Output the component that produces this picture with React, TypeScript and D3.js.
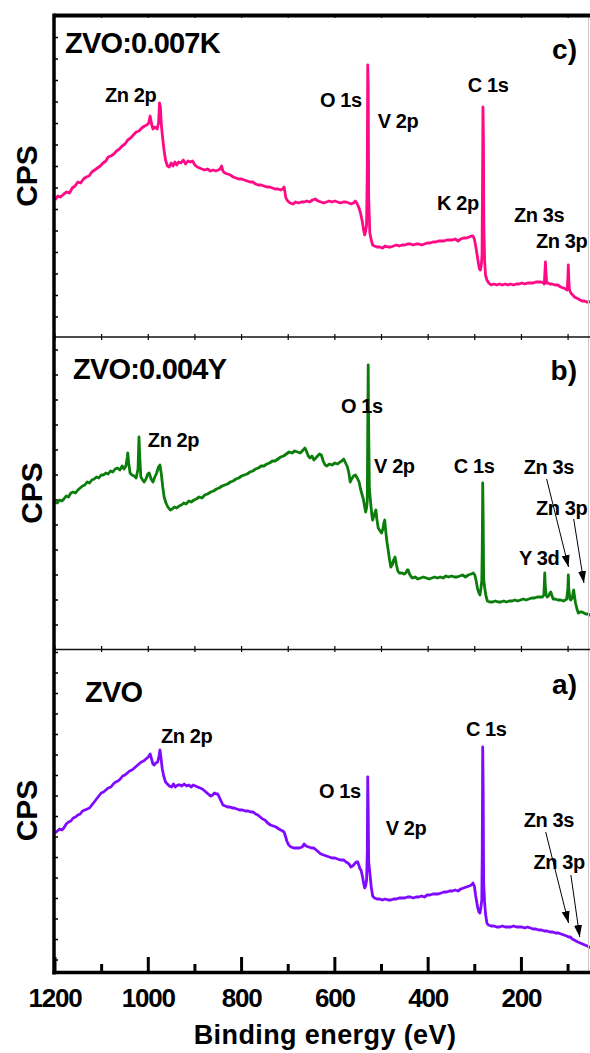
import React from 'react';
import * as d3 from 'd3';

// ---------- data ----------
const xDomain: [number, number] = [1200, 53];
const xTicksMajor = [1200, 1000, 800, 600, 400, 200];
const xTicksMinor = [1100, 900, 700, 500, 300, 100];

// [binding energy (eV), intensity (a.u.)]
const zvoK: [number, number][] = [
  [1200,137],[1194,141],[1188,140],[1181,143],[1175,145],[1169,144],[1163,149],[1157,151],[1151,155],[1145,154],[1139,158],[1133,160],[1127,161],[1121,165],[1115,167],[1109,169],[1103,171],[1097,174],[1091,176],[1086,180],[1080,181],[1074,183],[1068,186],[1062,188],[1056,191],[1050,193],[1044,197],[1038,199],[1032,202],[1026,205],[1020,206],[1014,209],[1008,211],[1003,212],[999,214],[996,221],[993,213],[990,208],[986,210],[981,208],[978,214],[976,234],[974,230],[972,212],[969,198],[966,186],[963,177],[959,171],[955,170],[951,174],[947,171],[943,175],[939,172],[935,175],[930,174],[925,177],[920,173],[915,176],[910,175],[905,176],[900,172],[895,170],[890,169],[885,168],[879,167],[873,168],[867,166],[861,167],[855,166],[850,167],[846,168],[843,171],[840,166],[836,164],[830,163],[824,162],[818,160],[812,159],[806,158],[800,158],[794,157],[788,156],[782,155],[776,155],[770,153],[764,152],[758,152],[752,151],[746,150],[740,150],[734,149],[728,148],[722,148],[716,147],[712,148],[709,150],[707,145],[705,139],[701,136],[696,134],[690,133],[684,135],[678,134],[672,135],[666,135],[660,136],[654,135],[648,137],[642,138],[636,136],[630,135],[624,134],[618,135],[612,136],[606,135],[600,136],[594,135],[588,134],[582,135],[576,135],[570,134],[565,133],[560,134],[556,136],[553,134],[549,130],[545,124],[541,115],[538,106],[536,102],[534,106],[532,112],[530.5,170],[529.5,272],[528.5,250],[527.5,140],[525,104],[522,97],[519,92],[515,91],[510,90],[504,90],[498,89],[492,91],[486,90],[480,90],[474,91],[468,92],[462,91],[456,92],[450,92],[444,93],[438,93],[432,92],[426,93],[420,93],[414,92],[408,93],[402,94],[396,94],[390,95],[384,95],[378,96],[372,96],[366,96],[360,97],[354,97],[348,97],[342,98],[336,96],[330,98],[324,99],[318,99],[312,100],[307,101],[304,101],[301,98],[298,91],[295,82],[292,73],[290,68],[288,67],[286,72],[284.5,82],[283.5,150],[282.5,230],[281.5,200],[280.5,110],[279,77],[277,62],[274,57],[270,54],[265,52],[259,53],[253,52],[247,53],[241,52],[235,53],[229,52],[223,53],[217,52],[211,53],[205,53],[199,54],[193,53],[187,54],[181,54],[175,54],[169,55],[163,55],[157,55],[153,54],[151,53],[149.5,66],[148.5,75],[147.5,66],[146,54],[143,54],[139,53],[134,53],[128,52],[122,52],[116,50],[110,49],[105,48],[102,47],[100.5,58],[99.5,72],[98.5,58],[97,47],[94,44],[90,42],[86,40],[82,39],[78,38],[74,37],[70,36],[65,36],[60,35],[55,35],[51,36],
];

const zvoY: [number, number][] = [
  [1200,147],[1195,146],[1190,149],[1185,148],[1181,150],[1176,153],[1171,152],[1166,156],[1161,157],[1156,156],[1151,159],[1146,161],[1141,163],[1136,164],[1131,167],[1126,166],[1121,169],[1116,170],[1111,172],[1106,171],[1101,174],[1096,174],[1091,176],[1086,175],[1081,178],[1076,177],[1071,180],[1066,181],[1061,179],[1056,183],[1052,180],[1048,183],[1045,192],[1044,196],[1042,186],[1039,176],[1035,174],[1030,173],[1026,171],[1022,180],[1020,212],[1018,190],[1016,172],[1012,169],[1009,167],[1005,170],[1001,175],[998,176],[994,170],[990,167],[986,172],[982,176],[978,182],[975,184],[972,175],[969,162],[966,152],[962,146],[958,142],[953,139],[949,140],[944,142],[939,141],[934,143],[929,144],[924,146],[919,145],[913,148],[908,147],[902,149],[897,150],[891,152],[885,151],[879,154],[873,155],[866,157],[860,158],[854,160],[848,161],[842,163],[836,164],[830,165],[824,167],[818,168],[812,170],[806,171],[800,173],[794,174],[788,175],[782,177],[776,178],[770,180],[764,181],[758,183],[752,183],[746,185],[740,186],[734,188],[728,188],[722,190],[716,192],[710,193],[704,195],[698,197],[692,196],[686,198],[680,197],[674,196],[668,199],[664,201],[661,198],[657,193],[653,191],[649,193],[645,189],[641,191],[637,193],[633,195],[629,194],[625,188],[621,184],[617,183],[612,185],[606,184],[600,186],[594,185],[589,187],[585,188],[581,190],[577,186],[573,182],[570,176],[567,167],[564,170],[560,173],[556,174],[552,171],[548,167],[545,160],[542,155],[539,150],[536,142],[534,137],[532,141],[530.5,148],[529.5,220],[528.5,284],[527.5,220],[526,160],[524,150],[521,135],[519,129],[516,134],[512,139],[510,130],[507,121],[503,118],[500,116],[497,120],[495,126],[493,129],[491,118],[488,106],[486,100],[483,90],[480,82],[477,84],[474,89],[471,92],[468,84],[465,78],[462,76],[456,76],[452,75],[448,76],[445,79],[443,79],[440,75],[436,72],[433,71],[428,72],[422,70],[416,71],[410,72],[404,71],[398,70],[392,71],[386,72],[380,71],[374,72],[368,71],[362,73],[356,72],[350,73],[344,72],[338,72],[332,73],[326,74],[320,72],[314,74],[308,75],[303,76],[300,74],[297,68],[294,60],[291,56],[289,54],[287,60],[285,68],[284,100],[283,166],[282,130],[281,70],[279,62],[276,53],[273,48],[268,47],[262,47],[256,48],[250,47],[244,47],[238,48],[232,47],[226,48],[220,48],[214,49],[208,48],[202,49],[196,50],[190,49],[184,50],[178,51],[172,51],[166,52],[160,52],[155,52],[152,54],[151,64],[150,76],[149,64],[147,54],[145,52],[142,53],[139,56],[137,57],[135,54],[132,50],[128,50],[122,49],[116,49],[110,48],[106,49],[103,50],[100.5,60],[99.5,74],[98.5,60],[96,50],[94,49],[91,51],[89,57],[88,59],[86,52],[84,46],[81,40],[78,36],[74,37],[70,37],[66,36],[62,35],[58,35],[54,34],[51,35],
];

const zvo: [number, number][] = [
  [1200,139],[1195,141],[1190,143],[1185,142],[1181,144],[1176,148],[1171,150],[1166,151],[1161,154],[1156,155],[1151,157],[1146,158],[1141,161],[1136,162],[1131,163],[1126,164],[1121,167],[1116,170],[1111,173],[1106,176],[1101,179],[1096,180],[1091,182],[1086,184],[1080,185],[1075,188],[1070,190],[1065,191],[1060,193],[1055,196],[1050,197],[1045,199],[1040,201],[1035,202],[1030,204],[1025,206],[1020,208],[1015,210],[1010,211],[1005,213],[1000,215],[996,218],[993,213],[990,208],[987,207],[984,209],[980,210],[977,216],[975,222],[973,215],[970,203],[967,196],[963,190],[959,188],[955,186],[950,185],[946,188],[942,185],[937,187],[932,187],[928,186],[923,188],[918,186],[913,187],[908,185],[904,187],[899,186],[894,185],[889,184],[884,183],[879,181],[874,179],[869,177],[866,176],[862,177],[858,179],[854,178],[851,178],[847,174],[843,170],[840,167],[835,166],[830,165],[825,165],[820,164],[816,164],[810,163],[804,162],[798,162],[792,161],[786,161],[780,160],[775,160],[770,158],[765,157],[760,155],[755,153],[750,152],[744,149],[738,147],[732,146],[726,145],[720,143],[716,142],[712,141],[709,140],[706,136],[703,131],[699,127],[694,125],[688,124],[682,124],[676,124],[670,125],[666,128],[662,126],[656,125],[650,124],[645,124],[640,122],[635,120],[630,118],[624,117],[618,116],[612,115],[606,114],[600,114],[594,113],[588,112],[581,112],[576,110],[572,109],[568,107],[566,105],[562,106],[558,108],[554,110],[551,110],[548,106],[546,103],[544,102],[541,96],[538,88],[536,84],[534,86],[532,92],[530.5,120],[529.5,195],[528.5,160],[527.5,110],[525,99],[522,85],[519,76],[515,74],[510,73],[504,73],[498,72],[492,73],[486,72],[480,72],[474,73],[468,73],[462,74],[456,74],[450,74],[444,75],[438,75],[432,74],[426,75],[420,75],[414,76],[408,75],[402,77],[396,77],[390,78],[384,78],[378,78],[372,79],[366,80],[360,80],[354,81],[348,81],[342,82],[336,81],[330,83],[324,84],[318,85],[312,86],[307,87],[304,89],[301,86],[298,76],[294,65],[291,60],[289,59],[287,64],[285,72],[284,120],[283,225],[282,180],[281,90],[279,70],[277,58],[274,49],[271,47],[265,46],[259,46],[253,45],[247,45],[241,46],[235,45],[229,45],[223,45],[217,46],[211,45],[205,45],[199,45],[193,44],[187,45],[181,44],[175,43],[169,43],[163,42],[157,42],[151,41],[145,41],[139,40],[133,40],[127,39],[121,39],[115,38],[109,37],[103,36],[99,35],[95,35],[91,33],[87,32],[83,31],[79,30],[74,29],[69,28],[64,27],[59,26],[55,25],[51,24],
];

// peak annotations: [text, energy, intensity]
const labelsK: [string, number, number][] = [
  ['Zn 2p', 1093, 235], ['O 1s', 632, 230], ['V 2p', 508, 209], ['C 1s', 315, 245],
  ['K 2p', 381, 127], ['Zn 3s', 216, 115], ['Zn 3p', 169, 89],
];
const labelsY: [string, number, number][] = [
  ['Zn 2p', 1001, 202], ['O 1s', 587, 236], ['V 2p', 516, 176], ['C 1s', 345, 176],
  ['Zn 3s', 195, 175], ['Zn 3p', 169, 134], ['Y 3d', 205, 84],
];
const labelsZ: [string, number, number][] = [
  ['Zn 2p', 973, 229], ['O 1s', 634, 174], ['V 2p', 491, 137], ['C 1s', 319, 236],
  ['Zn 3s', 195, 145], ['Zn 3p', 174, 103],
];
// arrows: [fromE, fromI, toE, toI]
const arrowsY: [number, number, number, number][] = [[146, 170, 99, 82], [88, 130, 66, 66]];
const arrowsZ: [number, number, number, number][] = [[148, 140, 99, 49], [94, 97, 75, 35]];

const sampleNames = ['ZVO:0.007K', 'ZVO:0.004Y', 'ZVO'];
const panelLetters = ['c)', 'b)', 'a)'];

// ---------- layout ----------
const W = 590, H = 1053;
const X0 = 55, X1 = 590;
const FONT = "'Liberation Sans', Arial, Helvetica, sans-serif";

const panels = [
  { data: zvoK, labels: labelsK, arrows: [] as [number, number, number, number][], color: '#ff0a86', top: 15, bottom: 337, yMax: 322, titleX: 65, titleY: 53, letterY: 59, cpsX: 37, tickStart: 20, tickStep: 21.5 },
  { data: zvoY, labels: labelsY, arrows: arrowsY, color: '#0b7d0b', top: 337, bottom: 649, yMax: 312, titleX: 73, titleY: 379, letterY: 380, cpsX: 42, tickStart: 24, tickStep: 25 },
  { data: zvo, labels: labelsZ, arrows: arrowsZ, color: '#7f0aff', top: 649, bottom: 972, yMax: 323, titleX: 85, titleY: 702, letterY: 694, cpsX: 37, tickStart: 12, tickStep: 20.5 },
];

export default function App() {
  const x = d3.scaleLinear().domain(xDomain).range([X0, X1]);
  const allTicks = [...xTicksMajor, ...xTicksMinor];
  return (
    <svg width={W} height={H} style={{ position: 'absolute', left: 0, top: 0, background: '#fff' }}
      fontFamily={FONT} fontWeight="bold">
      <defs>
        <marker id="arr" viewBox="0 0 12 8" refX="12" refY="4" markerWidth="12" markerHeight="8" orient="auto" markerUnits="userSpaceOnUse">
          <path d="M0,0 L12,4 L0,8 z" fill="#000" />
        </marker>
        {panels.map((p, i) => (
          <clipPath id={`clip${i}`} key={i}>
            <rect x={X0} y={p.top} width={X1 - X0} height={p.bottom - p.top} />
          </clipPath>
        ))}
      </defs>
      <rect x={0} y={0} width={W} height={H} fill="#fff" />
      {panels.map((p, i) => {
        const y = d3.scaleLinear().domain([0, p.yMax]).range([p.bottom, p.top]);
        const line = d3.line<[number, number]>().x(d => x(d[0])).y(d => y(d[1]));
        const yTicks = d3.range(p.tickStart, p.yMax, p.tickStep);
        return (
          <g key={i}>
            {yTicks.map((t, k) => (
              <line key={k} x1={X0} x2={X0 + 3} y1={y(t)} y2={y(t)} stroke="#000" strokeWidth={1.5} />
            ))}
            {allTicks.map((t, k) => (
              <g key={k}>
                <line x1={x(t)} x2={x(t)} y1={p.top} y2={p.top + 3} stroke="#000" strokeWidth={1.2} />
                {i < 2 ? <line x1={x(t)} x2={x(t)} y1={p.bottom - 3} y2={p.bottom} stroke="#000" strokeWidth={1.2} /> : null}
              </g>
            ))}
            <path d={line(p.data) || ''} fill="none" stroke={p.color} strokeWidth={2.8}
              strokeLinejoin="round" clipPath={`url(#clip${i})`} />
            {p.labels.map(([t, e, v], k) => (
              <text key={k} x={x(e)} y={y(v)} fontSize={20} letterSpacing={-0.4} fill="#000">{t}</text>
            ))}
            {p.arrows.map(([e0, v0, e1, v1], k) => (
              <line key={k} x1={x(e0)} y1={y(v0)} x2={x(e1)} y2={y(v1)} stroke="#000" strokeWidth={1} markerEnd="url(#arr)" />
            ))}
            <text x={p.titleX} y={p.titleY} fontSize={29} letterSpacing={-0.8} fill="#000">{sampleNames[i]}</text>
            <text x={577} y={p.letterY} fontSize={28} textAnchor="end" fill="#000">{panelLetters[i]}</text>
            <text transform={`translate(${p.cpsX},${(p.top + p.bottom) / 2}) rotate(-90)`} fontSize={30}
              textAnchor="middle" fill="#000">CPS</text>
          </g>
        );
      })}
      {/* frame */}
      <line x1={588.5} x2={588.5} y1={15} y2={972} stroke="#c8c8c8" strokeWidth={1} />
      <line x1={X0 - 1} x2={W} y1={15.5} y2={15.5} stroke="#000" strokeWidth={4} />
      <line x1={X0} x2={W} y1={337} y2={337} stroke="#111" strokeWidth={1.6} />
      <line x1={X0} x2={W} y1={649.5} y2={649.5} stroke="#111" strokeWidth={1.6} />
      <line x1={54} x2={54} y1={13.5} y2={974.5} stroke="#000" strokeWidth={3.5} />
      <line x1={52.5} x2={W} y1={972.5} y2={972.5} stroke="#000" strokeWidth={3.5} />
      {xTicksMajor.map((t, k) => (
        <g key={k}>
          <line x1={x(t)} x2={x(t)} y1={957} y2={972} stroke="#000" strokeWidth={3} />
          <text x={x(t)} y={1007} fontSize={26} letterSpacing={-1.2} textAnchor="middle" fill="#000">{t}</text>
        </g>
      ))}
      {xTicksMinor.map((t, k) => (
        <line key={k} x1={x(t)} x2={x(t)} y1={964} y2={972} stroke="#000" strokeWidth={3} />
      ))}
      <text x={325} y={1044} fontSize={27} letterSpacing={0.4} textAnchor="middle" fill="#000">Binding energy (eV)</text>
    </svg>
  );
}
